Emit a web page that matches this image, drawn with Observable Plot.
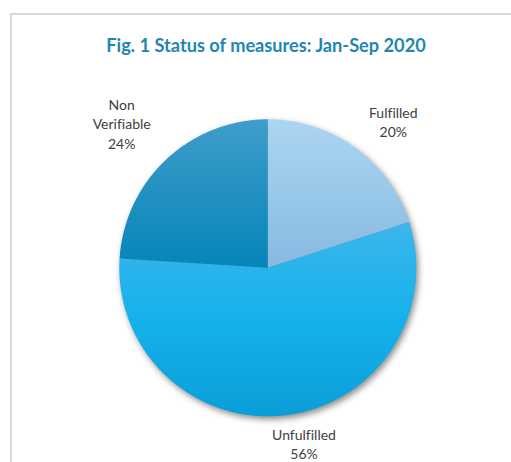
<!DOCTYPE html>
<html>
<head>
<meta charset="utf-8">
<script src="https://cdn.jsdelivr.net/npm/d3@7"></script>
<script src="https://cdn.jsdelivr.net/npm/@observablehq/plot@0.6"></script>
<style>
  html, body { margin: 0; padding: 0; background: #fff; overflow: hidden; }
  #wrap { position: relative; width: 511px; height: 462px; }
  #frame { position: absolute; left: 10px; top: 13px; right: -5px; bottom: -5px;
           border-top: 2px solid #d9d9d9; border-left: 2px solid #d9d9d9; }
  #chart { position: absolute; left: 0; top: 0; }
  #chart text { font-variant-ligatures: none; font-feature-settings: "liga" 0; }
  #chart g[aria-label="line"] { filter: drop-shadow(2px 3px 3px rgba(0,0,0,0.45)); }
</style>
</head>
<body>
<div id="wrap"><div id="frame"></div><div id="chart"></div></div>
<script>
// ---- data ----
const categories = ["Fulfilled", "Unfulfilled", "Non Verifiable"];
const values = [20, 56, 24];
const labelLines = ["Fulfilled\n20%", "Unfulfilled\n56%", "Non\nVerifiable\n24%"];
const title = "Fig. 1 Status of measures: Jan-Sep 2020";

// ---- styles ----
const gradients = {
  "Fulfilled":      ["#abd6f3", "#86bae0"],
  "Unfulfilled":    ["#3cb6ea", "#16b1ed", "#0a9ed7"],
  "Non Verifiable": ["#3f9dca", "#0585b9"]
};
const labelOffsetPx = { // nudges (px) from the default outside-end position
  "Fulfilled": [12, 10],
  "Unfulfilled": [12, -16],
  "Non Verifiable": [-14, -4]
};
const cx = 267.3, cy = 267.3, R = 148.5, labelR = 1.3;

const arcs = d3.pie().sort(null).value(d => d.value)(
  categories.map((c, i) => ({category: c, value: values[i], label: labelLines[i]}))
);

// wedge outlines in unit-circle data coordinates (y up)
const wedgePts = [];
arcs.forEach((a, i) => {
  const id = "grad" + i;
  wedgePts.push({category: a.data.category, g: id, x: 0, y: 0});
  const n = Math.max(2, Math.ceil((a.endAngle - a.startAngle) / (Math.PI / 360)));
  for (let k = 0; k <= n; k++) {
    const t = a.startAngle + (a.endAngle - a.startAngle) * k / n;
    wedgePts.push({category: a.data.category, g: id, x: Math.sin(t), y: Math.cos(t)});
  }
  wedgePts.push({category: a.data.category, g: id, x: 0, y: 0});
});

const labels = arcs.map(a => {
  const m = (a.startAngle + a.endAngle) / 2;
  const [ox, oy] = labelOffsetPx[a.data.category];
  return {
    text: a.data.label,
    x: labelR * Math.sin(m) + ox / R,
    y: labelR * Math.cos(m) - oy / R
  };
});

function defs() {
  const ns = "http://www.w3.org/2000/svg";
  const d = document.createElementNS(ns, "defs");
  arcs.forEach((a, i) => {
    const lg = document.createElementNS(ns, "linearGradient");
    lg.setAttribute("id", "grad" + i);
    lg.setAttribute("x1", "0"); lg.setAttribute("y1", "0");
    lg.setAttribute("x2", "0"); lg.setAttribute("y2", "1");
    const stops = gradients[a.data.category];
    stops.forEach((c, j) => {
      const s = document.createElementNS(ns, "stop");
      s.setAttribute("offset", (j / (stops.length - 1)).toString());
      s.setAttribute("stop-color", c);
      lg.appendChild(s);
    });
    d.appendChild(lg);
  });
  return d;
}

const chart = Plot.plot({
  width: 511,
  height: 462,
  margin: 0,
  style: {background: "transparent", overflow: "visible"},
  x: {domain: [-1, 1], range: [cx - R, cx + R], axis: null},
  y: {domain: [-1, 1], range: [cy + R, cy - R], axis: null},
  color: {type: "identity"},
  marks: [
    defs,
    Plot.line(wedgePts, {
      x: "x", y: "y", z: "category",
      fill: d => `url(#${d.g})`,
      stroke: "none", curve: "linear"
    }),
    Plot.text(labels, {
      x: "x", y: "y", text: "text",
      fontSize: 14, fill: "#404040", lineHeight: 1.38,
      fontFamily: "Lato, 'Open Sans', sans-serif"
    }),
    Plot.text([title], {
      frameAnchor: "top", lineAnchor: "top", dx: 10, dy: 39,
      text: d => d, fontSize: 18.2, fontWeight: "bold", fill: "#1f86b2",
      fontFamily: "Lato, 'Open Sans', sans-serif"
    })
  ]
});
document.getElementById("chart").appendChild(chart);
</script>
</body>
</html>
